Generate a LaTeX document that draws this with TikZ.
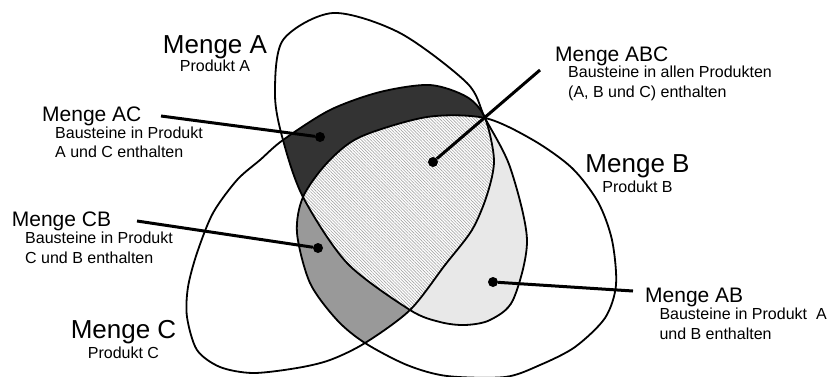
\documentclass[tikz,border=0pt]{standalone}
\usepackage{fontspec}
\setmainfont{Liberation Sans}
\usetikzlibrary{positioning,patterns.meta}

\newcommand{\mengeA}{plot[smooth cycle] coordinates {(333,13) (400,33) (467,83) (485,118) (510,167) (527,240) (513,300) (490,320) (465,325) (440,322) (410,310) (347,263) (303,197) (283,140) (275,95) (283,40)}}
\newcommand{\mengeB}{plot[smooth cycle] coordinates {(485,118) (533,140) (572,168) (598,202) (612,240) (616,285) (605,318) (575,347) (540,365) (505,377) (447,376) (407,365) (365,343) (337,320) (310,283) (297,233) (303,197) (327,163) (360,137) (427,117)}}
\newcommand{\mengeC}{plot[smooth cycle] coordinates {(485,118) (494,160) (487,195) (472,230) (445,265) (410,310) (365,343) (330,360) (297,368) (253,373) (220,367) (197,350) (187,317) (188,287) (197,253) (213,213) (237,180) (260,160) (283,140) (330,110) (380,92) (430,85) (467,97)}}

\begin{document}
\begin{tikzpicture}[x=1pt,y=-1pt]
  \tikzstyle{outline}=[line width=1.8pt,line join=round]
  \tikzstyle{setname}=[inner sep=0pt,anchor=base,font=\fontsize{26}{30}\selectfont]
  \tikzstyle{setsub}=[inner sep=0pt,anchor=base,font=\fontsize{16}{19.5}\selectfont]
  \tikzstyle{cutname}=[inner sep=0pt,anchor=base west,font=\fontsize{21}{24}\selectfont]
  \tikzstyle{cutsub}=[inner sep=0pt,anchor=base west,align=left,font=\fontsize{16}{19.5}\selectfont]
  \tikzstyle{dot}=[circle,fill,inner sep=0pt,minimum size=10pt]
  \tikzstyle{leader}=[line width=3pt]
  \useasboundingbox (0,0) rectangle (827,376);

  \begin{scope}
    \clip \mengeA;
    \fill[black!80] \mengeC;
  \end{scope}
  \begin{scope}
    \clip \mengeB;
    \fill[black!40] \mengeC;
  \end{scope}
  \begin{scope}
    \clip \mengeA;
    \fill[black!9] \mengeB;
  \end{scope}
  \begin{scope}
    \clip \mengeA;
    \clip \mengeB;
    \fill[white] \mengeC;
    \fill[pattern={Lines[angle=-45,distance=2.2pt,line width=0.6pt]},pattern color=black!35] \mengeC;
  \end{scope}
  \draw[outline] \mengeA;
  \draw[outline] \mengeB;
  \draw[outline] \mengeC;

  \node[setname] (mA) at (215,53) {Menge A};
  \node[setsub] (pA) at ([yshift=-18.5pt]mA.base) {Produkt A};
  \node[setname] (mB) at (637.5,172.3) {Menge B};
  \node[setsub] (pB) at ([yshift=-20pt]mB.base) {Produkt B};
  \node[setname] (mC) at (123.5,338.3) {Menge C};
  \node[setsub] (pC) at ([yshift=-20pt]mC.base) {Produkt C};

  \node[cutname] (mAC) at (42,121.7) {Menge AC};
  \node[cutsub] (tAC) at ([shift={(13,36.1)}]mAC.base west) {Bausteine in Produkt\\A und C enthalten};
  \node[cutname] (mABC) at (555,61.7) {Menge ABC};
  \node[cutsub] (tABC) at ([shift={(13,35.6)}]mABC.base west) {Bausteine in allen Produkten\\(A, B und C) enthalten};
  \node[cutname] (mCB) at (11.7,226.7) {Menge CB};
  \node[cutsub] (tCB) at ([shift={(13.3,36.6)}]mCB.base west) {Bausteine in Produkt\\C und B enthalten};
  \node[cutname] (mAB) at (645,302.7) {Menge AB};
  \node[cutsub] (tAB) at ([shift={(14.3,36.6)}]mAB.base west) {Bausteine in Produkt \ A\\und B enthalten};

  \node[dot] (dAC) at (320,137) {};
  \node[dot] (dABC) at (433,162) {};
  \node[dot] (dCB) at (318,248) {};
  \node[dot] (dAB) at (493,282) {};
  \coordinate (eAC) at (161,116);
  \coordinate (eABC) at (540,70);
  \coordinate (eCB) at (137,221);
  \coordinate (eAB) at (633,291);
  \draw[leader] (dAC) -- (eAC);
  \draw[leader] (dABC) -- (eABC);
  \draw[leader] (dCB) -- (eCB);
  \draw[leader] (dAB) -- (eAB);
\end{tikzpicture}
\end{document}
